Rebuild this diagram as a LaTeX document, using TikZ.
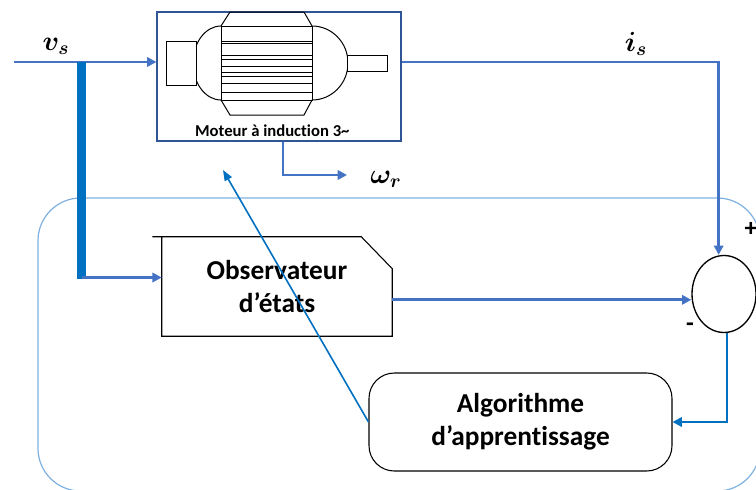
\documentclass[tikz,border=0pt]{standalone}
\usepackage{amsmath}
\usepackage{fontspec}
\setmainfont{Carlito}[Ligatures=NoCommon]
\usepackage{tikz}
\usetikzlibrary{arrows.meta, shapes, positioning}

\definecolor{lineblue}{HTML}{4472C4}
\definecolor{deepblue}{HTML}{0070C0}
\definecolor{frameblue}{HTML}{7EB1E0}
\definecolor{boxblue}{HTML}{2F5597}

\begin{document}
\begin{tikzpicture}[
  x=0.75pt, y=-0.75pt,
  >=Latex,
  motorbox/.style={
    rectangle, draw=boxblue, line width=0.8pt,
    minimum width=183pt, minimum height=96.75pt
  },
  block/.style={
    inner sep=0pt,
    minimum width=172.5pt, minimum height=74.25pt,
    align=center, font=\fontsize{20.5}{25}\selectfont\bfseries
  },
  algobox/.style={
    rectangle, rounded corners=19pt,
    draw=black, line width=0.8pt,
    minimum width=227.25pt, minimum height=73.5pt,
    align=center, font=\fontsize{20.5}{25}\selectfont\bfseries
  },
  sumnode/.style={
    ellipse, draw=black, line width=1pt,
    minimum width=48pt, minimum height=57.75pt
  },
  sig/.style={font=\fontsize{21}{24}\selectfont},
  arrow/.style={-{Triangle[length=7pt, width=7pt]}, lineblue, line width=2.2pt},
  bus/.style={deepblue, line width=6.75pt},
  feedback/.style={-{Triangle[length=8pt, width=6pt]}, deepblue, line width=1.2pt},
  frame/.style={frameblue, line width=0.9pt, rounded corners=32pt}
]
\useasboundingbox (0,0) rectangle (756,489);
\clip (0,0) rectangle (756,489);

% Surrounding frame
\draw[frame] (38,198) rectangle (760,491);

% Motor
\node[motorbox] (motor) at (279,76.5) {};
\node[font=\fontsize{12.5}{14}\selectfont\bfseries, above=0pt of motor.south, xshift=-5pt] (mlabel)
  {Moteur à induction 3\textasciitilde};
\begin{scope}[line width=0.75pt]
  \draw (221,26) arc[start angle=90, end angle=270, x radius=21pt, y radius=27.75pt];
  \draw (312,26) arc[start angle=90, end angle=-90, x radius=27pt, y radius=27.75pt];
  \draw (221,26) rectangle (312,100);
  \draw (221,26) -- (230,12) -- (304,12) -- (312,26);
  \draw (221,100) -- (230,115) -- (304,115) -- (312,100);
  \foreach \yy in {41,43.5,55,59.5,66.5,72,76,83,92}
    \draw (221,\yy) -- (312,\yy);
  \draw[fill=white] (166,41) rectangle (196,85);
  \draw[fill=white] (347,55) rectangle (387,71);
\end{scope}

% Observer
\node[block] (obs) at (277,286.5) {Observateur\\d’états};
\draw[line width=0.8pt] ([xshift=-7pt]obs.north west) -- ([xshift=-23.25pt]obs.north east)
  -- ([yshift=-24pt]obs.north east) -- (obs.south east) -- (obs.south west) -- (obs.north west);

% Comparator and learning block
\node[sumnode] (sum) at (724,294) {};
\node[algobox] (algo) at (520.5,422) {Algorithme\\d’apprentissage};

% Signal labels
\node[sig] (vs) at (56,46) {$\boldsymbol{v_s}$};
\node[sig] (is) at (636,44) {$\boldsymbol{i_s}$};
\node[sig] (wr) at (386,179) {$\boldsymbol{\omega_r}$};
\node[font=\fontsize{19}{20}\selectfont\bfseries] (plus) at (751,229) {+};
\node[font=\fontsize{19}{20}\selectfont\bfseries] (minus) at (690,327) {-};

% Coordinates
\coordinate (vin) at (14,62);
\coordinate (tap) at (81.5,62);
\coordinate (obsin) at ([yshift=6.75pt]obs.west);
\coordinate (obsout) at ([yshift=-10pt]obs.east);
\coordinate (wrend) at (347,175);
\coordinate (ctrl) at (223,170);

% Arrows
\draw[arrow] (vin) -- (vin -| motor.west);
\draw[bus] (tap) -- ([yshift=-1pt]tap |- obsin);
\draw[arrow] (tap |- obsin) -- (obsin);
\draw[arrow] (vin -| motor.east) -| ([xshift=-4pt]sum.north);
\draw[arrow] (obsout) -- (obsout -| sum.west);
\draw[arrow, line width=2pt] ([xshift=3pt]motor.south) |- (wrend);
\draw[-{Triangle[length=7pt, width=7pt]}, deepblue, line width=1.6pt]
  ([xshift=2pt]sum.south) |- (algo.east);
\draw[feedback] (algo.west) -- (ctrl);

\end{tikzpicture}
\end{document}
